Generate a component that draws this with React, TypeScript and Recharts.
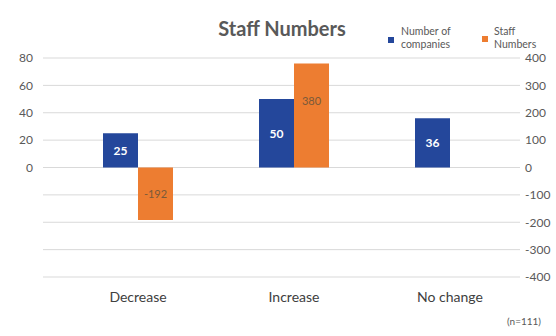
import React from "react";
import {
  Bar,
  BarChart,
  CartesianGrid,
  LabelList,
  XAxis,
  YAxis,
} from "recharts";

const categories = ["Decrease", "Increase", "No change"];
const companies = [25, 50, 36];
const staffNumbers: (number | null)[] = [-192, 380, null];
const leftTicks = [-80, -60, -40, -20, 0, 20, 40, 60, 80];
const rightTicks = [-400, -300, -200, -100, 0, 100, 200, 300, 400];

const data = categories.map((name, i) => ({
  name,
  companies: companies[i],
  staff: staffNumbers[i],
}));

const FONT = "Lato, 'Open Sans', sans-serif";
const BLUE = "#24479b";
const ORANGE = "#ed7d31";

// staff labels sit near the top of tall bars, centred in short ones
const StaffLabel = (props: any) => {
  const { x, y, width, height, value } = props;
  if (value === null || value === undefined) return null;
  const top = Math.min(y, y + height);
  const h = Math.abs(height);
  const cy = top + Math.min(h / 2, 38);
  return (
    <text
      x={x + width / 2}
      y={cy}
      dy="0.35em"
      textAnchor="middle"
      fontSize={11}
      fontFamily={FONT}
      fill="#7a5a3a"
    >
      {value}
    </text>
  );
};

const legendText: React.CSSProperties = {
  position: "absolute",
  top: 25,
  fontFamily: FONT,
  fontSize: 10.5,
  lineHeight: "13px",
  color: "#595959",
};

const LegendBox = () => (
  <>
    <span
      style={{ position: "absolute", left: 388, top: 37, width: 6, height: 6, background: BLUE }}
    />
    <div style={{ ...legendText, left: 401 }}>
      Number of
      <br />
      companies
    </div>
    <span
      style={{ position: "absolute", left: 482, top: 36, width: 6, height: 6, background: ORANGE }}
    />
    <div style={{ ...legendText, left: 494 }}>
      Staff
      <br />
      Numbers
    </div>
  </>
);

export default function App() {
  return (
    <div
      style={{
        position: "absolute",
        left: 0,
        top: 0,
        width: 556,
        height: 336,
        background: "#fff",
        overflow: "hidden",
      }}
    >
      <BarChart
        width={556}
        height={336}
        data={data}
        margin={{ top: 58, right: 0, bottom: 29, left: 5 }}
        barGap={0}
      >
        <CartesianGrid yAxisId="left" vertical={false} stroke="#d9d9d9" />
        <XAxis
          dataKey="name"
          axisLine={false}
          tickLine={false}
          tickSize={0}
          tickMargin={15}
          height={30}
          padding={{ left: 17, right: -8 }}
          tick={{ fontSize: 14, fontFamily: FONT, fill: "#404040" }}
        />
        <YAxis
          yAxisId="left"
          domain={[-80, 80]}
          ticks={leftTicks}
          width={38}
          axisLine={false}
          tickLine={false}
          tickSize={0}
          tickMargin={10}
          tickFormatter={(v: number) => (v >= 0 ? String(v) : "")}
          tick={{ fontSize: 12, fontFamily: FONT, fill: "#595959" }}
        />
        <YAxis
          yAxisId="right"
          orientation="right"
          domain={[-400, 400]}
          ticks={rightTicks}
          width={36}
          axisLine={false}
          tickLine={false}
          tickSize={0}
          tickMargin={5}
          tick={{ fontSize: 12, fontFamily: FONT, fill: "#595959" }}
        />
        <Bar
          yAxisId="left"
          dataKey="companies"
          name="Number of companies"
          fill={BLUE}
          barSize={35}
          isAnimationActive={false}
        >
          <LabelList
            dataKey="companies"
            position="center"
            fill="#ffffff"
            fontSize={12}
            fontWeight={700}
            fontFamily={FONT}
          />
        </Bar>
        <Bar
          yAxisId="right"
          dataKey="staff"
          name="Staff Numbers"
          fill={ORANGE}
          barSize={35}
          isAnimationActive={false}
        >
          <LabelList dataKey="staff" content={StaffLabel} />
        </Bar>
      </BarChart>
      <div
        style={{
          position: "absolute",
          top: 16,
          left: 0,
          width: 564,
          textAlign: "center",
          fontFamily: FONT,
          fontWeight: 700,
          fontSize: 20,
          color: "#595959",
        }}
      >
        Staff Numbers
      </div>
      <LegendBox />
      <div
        style={{
          position: "absolute",
          top: 315,
          left: 507,
          fontFamily: FONT,
          fontSize: 10,
          color: "#595959",
        }}
      >
        (n=111)
      </div>
    </div>
  );
}
